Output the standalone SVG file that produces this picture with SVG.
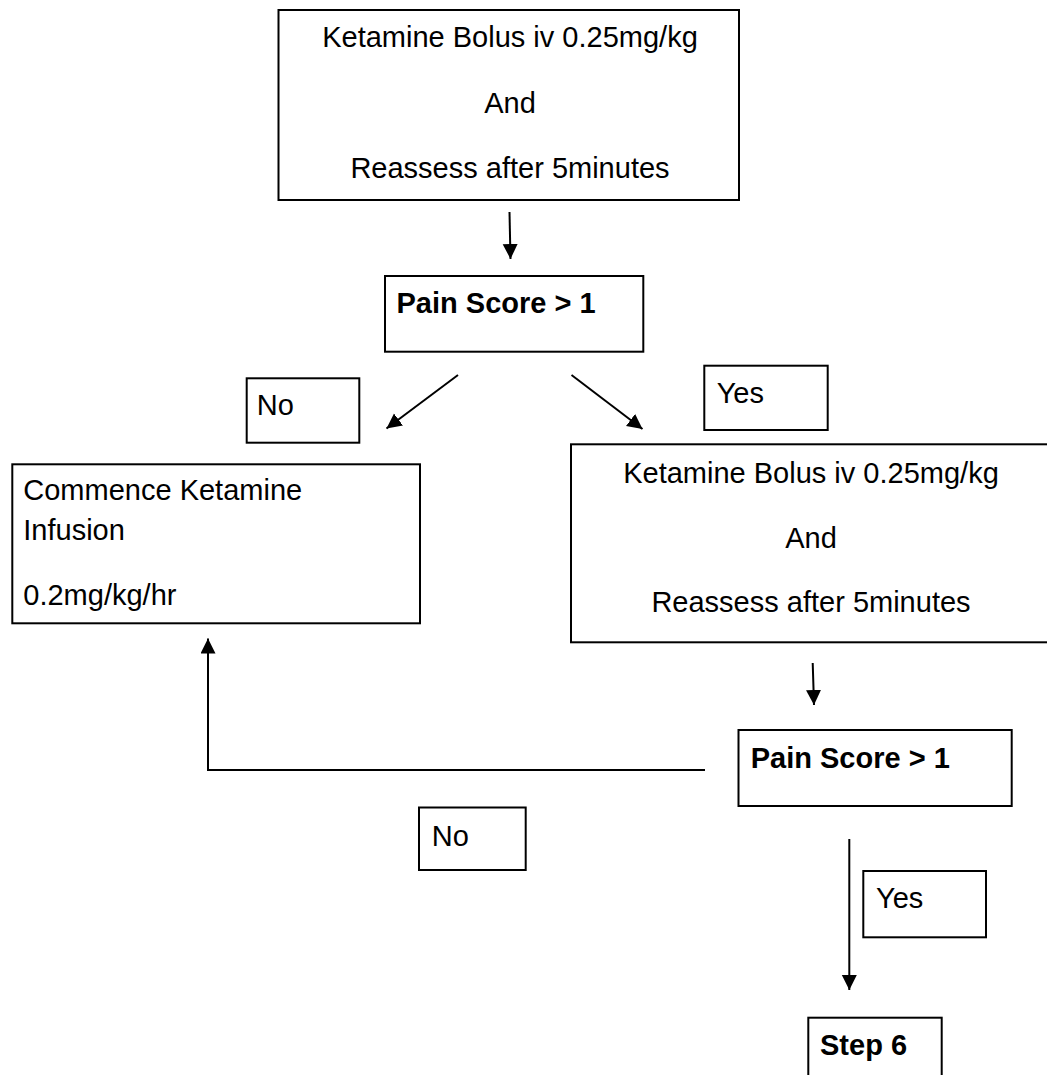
<svg xmlns="http://www.w3.org/2000/svg" width="1047" height="1075" viewBox="0 0 1047 1075">
<style>
.box{fill:#fff;stroke:#000;stroke-width:2}
.t{font-family:"Liberation Sans",Arial,sans-serif;font-size:29px;fill:#000}
.c{text-anchor:middle}
.b{font-weight:bold}
.ln{fill:none;stroke:#000;stroke-width:2}
</style>
<defs>
<marker id="ah" markerUnits="userSpaceOnUse" markerWidth="16" markerHeight="16" refX="15" refY="7.5" orient="auto">
<path d="M0,0 L15,7.5 L0,15 z" fill="#000"/>
</marker>
</defs>
<rect width="1047" height="1075" fill="#fff"/>
<g id="connectors">
<line class="ln" x1="509.5" y1="212" x2="510.5" y2="259" marker-end="url(#ah)"/>
<line class="ln" x1="458" y1="375" x2="386.5" y2="428.5" marker-end="url(#ah)"/>
<line class="ln" x1="571.5" y1="375" x2="642.5" y2="429" marker-end="url(#ah)"/>
<line class="ln" x1="812.7" y1="663" x2="814" y2="705" marker-end="url(#ah)"/>
<polyline class="ln" points="705,770 208,770 208,638.5" marker-end="url(#ah)"/>
<line class="ln" x1="849.3" y1="839" x2="849.3" y2="990" marker-end="url(#ah)"/>
</g>
<g id="n1">
<rect class="box" x="278.5" y="10" width="460.5" height="190"/>
<text class="t c" x="510" y="47">Ketamine Bolus iv 0.25mg/kg</text>
<text class="t c" x="510" y="113">And</text>
<text class="t c" x="510" y="178">Reassess after 5minutes</text>
</g>
<g id="n2">
<rect class="box" x="385" y="276" width="258.3" height="75.7"/>
<text class="t b" x="396.5" y="313.3">Pain Score &gt; 1</text>
</g>
<g id="n3">
<rect class="box" x="246.7" y="378.3" width="112.6" height="64.4"/>
<text class="t" x="256.7" y="415">No</text>
</g>
<g id="n4">
<rect class="box" x="704.3" y="365.7" width="123.4" height="64.3"/>
<text class="t" x="716.7" y="403.3">Yes</text>
</g>
<g id="n5">
<rect class="box" x="12.3" y="464.3" width="407.7" height="159"/>
<text class="t" x="23.3" y="500">Commence Ketamine</text>
<text class="t" x="23.3" y="540">Infusion</text>
<text class="t" x="23.3" y="605">0.2mg/kg/hr</text>
</g>
<g id="n6">
<rect class="box" x="571" y="444.3" width="482" height="198"/>
<text class="t c" x="811" y="482.7">Ketamine Bolus iv 0.25mg/kg</text>
<text class="t c" x="811" y="548.3">And</text>
<text class="t c" x="811" y="612.3">Reassess after 5minutes</text>
</g>
<g id="n7">
<rect class="box" x="738.5" y="730" width="273.2" height="76"/>
<text class="t b" x="750.7" y="768.3">Pain Score &gt; 1</text>
</g>
<g id="n8">
<rect class="box" x="419" y="807.5" width="106.7" height="62.5"/>
<text class="t" x="431.7" y="846">No</text>
</g>
<g id="n9">
<rect class="box" x="863.3" y="871" width="122.7" height="66.3"/>
<text class="t" x="876" y="908.3">Yes</text>
</g>
<g id="n10">
<rect class="box" x="808.3" y="1017.7" width="133.4" height="70"/>
<text class="t b" x="820" y="1055">Step 6</text>
</g>
</svg>
